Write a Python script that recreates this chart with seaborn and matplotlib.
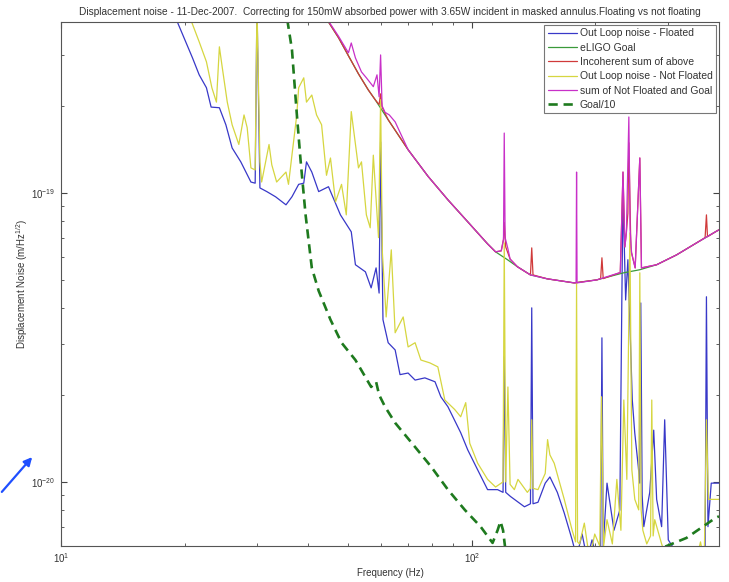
import numpy as np
import pandas as pd
import matplotlib
matplotlib.use("Agg")
import matplotlib.pyplot as plt
import seaborn as sns
from matplotlib.ticker import LogLocator, NullFormatter

# ---------------- data (units of 1e-20 m/Hz^1/2) ----------------
SCALE = 1e-20

floated_f = [18.9, 19.2, 20.9, 21.7, 22.6, 23.2, 24.3, 25.2, 26.1, 27.4, 29.0, 29.7, 30.0, 30.5,
             31.7, 33.3, 35.3, 36.5, 37.9, 39.0, 39.6, 40.8, 42.4, 44.8, 47.9, 50.9, 52.1, 55.1,
             56.9, 58.5, 59.5, 60.0, 60.8, 62.6, 65.1, 66.9, 70.0, 72.8, 76.9, 81.4, 84.1, 87.5,
             94.0, 97.8, 103.4, 109.3, 115.6, 119.2, 120.0, 121.0, 124.3, 134.4, 139.0, 140.0,
             141.0, 145.0, 151.0, 155.0, 161.6, 168.0, 175.6, 180.0, 185.7, 191.0, 196.3, 201.8,
             206.0, 207.5, 209.0, 213.5, 222.0, 229.4, 232.0, 233.5, 237.0, 240.0, 241.3, 246.0,
             249.4, 254.4, 256.5, 258.0, 260.0, 262.4, 271.3, 277.4, 282.0, 290.0, 295.0, 301.0,
             320.0, 350.0, 370.0, 372.8, 376.0, 383.0, 392.0, 400.0]
floated_v = [45, 39, 29.3, 25.6, 23.1, 19.8, 19.7, 17.2, 14.3, 12.8, 10.9, 10.8, 45, 10.4,
             10.1, 9.69, 9.09, 9.69, 10.7, 10.8, 12.8, 11.8, 10.1, 10.5, 8.39, 7.33, 5.64, 5.33,
             4.69, 5.50, 4.5, 15.0, 3.64, 3.03, 2.86, 2.35, 2.38, 2.25, 2.29, 2.22, 1.97, 1.82,
             1.48, 1.29, 1.10, 0.94, 0.94, 0.92, 2.71, 0.92, 0.89, 0.82, 0.84, 4.0,
             0.84, 0.85, 0.99, 1.04, 0.92, 0.78, 0.63, 0.55, 0.66, 0.54, 0.63, 0.54,
             0.60, 3.15, 0.60, 0.99, 0.68, 0.80, 4.26, 10.0, 4.26, 5.87, 4.62, 1.92,
             1.48, 1.13, 0.99, 4.16, 0.90, 0.70, 0.92, 1.51, 0.87, 0.70, 1.64, 0.63,
             0.55, 0.55, 0.58, 4.37, 0.70, 0.99, 0.99, 0.99]

goal_f = [43.6, 44.8, 47.4, 50.1, 53.0, 56.0, 58.2, 62.6, 70.0, 78.3, 87.5, 97.8, 103.4, 109.3,
          114.3, 122.2, 129.2, 139.0, 152.8, 177.6, 201.8, 234.6, 256.6, 282.0, 315.3, 352.6,
          392.0, 400.0]
goal_v = [43.0, 39.0, 34.4, 29.8, 25.8, 22.7, 21.0, 17.9, 14.1, 11.4, 9.46, 7.94, 7.27, 6.66,
          6.25, 5.87, 5.55, 5.20, 5.04, 4.88, 5.00, 5.29, 5.42, 5.64, 6.10, 6.71,
          7.33, 7.45]

incoh_f = [43.6, 44.8, 47.4, 50.1, 53.0, 56.0, 58.2, 59.5, 60.0, 60.5, 62.6, 70.0, 78.3, 87.5,
           97.8, 103.4, 109.3, 114.3, 118.0, 119.5, 120.0, 121.0, 124.0, 129.2, 139.0, 140.0,
           141.0, 152.8, 177.6, 201.8, 206.0, 207.5, 209.0, 230.0, 233.5, 236.0, 238.0, 240.0,
           241.3, 244.0, 245.0, 250.0, 256.6, 259.0, 282.0, 315.3, 352.6, 370.0, 372.8, 375.0,
           392.0, 400.0]
incoh_v = [43.0, 39.0, 34.4, 29.8, 25.8, 22.7, 21.0, 20.2, 22.0, 19.8, 17.9, 14.1, 11.4, 9.46,
           7.94, 7.27, 6.66, 6.25, 6.3, 6.9, 7.9, 6.5, 5.9, 5.55, 5.20, 6.45,
           5.2, 5.04, 4.88, 5.00, 5.05, 5.96, 5.05, 5.3, 11.8, 6.5, 7.3, 8.5,
           14.9, 6.5, 6.2, 5.5, 13.2, 5.5, 5.64, 6.10, 6.71, 7.0, 8.39, 7.05,
           7.33, 7.45]

notfl_f = [20.3, 20.8, 21.7, 22.6, 23.3, 23.9, 24.3, 24.7, 25.4, 26.1, 27.1, 27.9, 28.4, 29.0,
           29.7, 30.0, 30.5, 30.8, 32.1, 32.6, 33.5, 35.3, 35.8, 36.5, 37.5, 37.9, 39.0, 39.6,
           40.8, 41.9, 43.1, 44.3, 45.3, 46.6, 48.2, 49.5, 50.9, 53.0, 53.9, 55.4, 56.6, 57.6,
           59.3, 60.0, 60.6, 61.9, 63.7, 65.1, 68.1, 70.0, 72.8, 75.2, 79.1, 82.7, 86.0, 90.9,
           94.0, 96.7, 98.9, 103.4, 109.3, 114.3, 119.2, 120.0, 121.0, 122.5, 124.0, 127.0,
           129.6, 136.6, 139.0, 140.0, 141.0, 145.0, 151.0, 153.0, 155.0, 158.8, 168.0, 175.6,
           179.0, 180.0, 181.0, 183.0, 188.0, 193.6, 199.3, 205.0, 207.0, 209.5, 213.5, 220.0,
           225.6, 230.8, 234.6, 238.6, 242.7, 245.4, 249.5, 255.0, 256.6, 258.5, 261.0, 266.8,
           272.5, 274.4, 276.5, 279.0, 290.0, 298.4, 352.6, 360.6, 366.0, 368.7, 372.8, 377.0,
           392.0, 400.0]
notfl_v = [45, 39, 33.3, 28.4, 23.1, 20.6, 32.0, 27.1, 20.6, 17.2, 14.7, 18.6, 16.8, 12.2,
           12.0, 45, 12.8, 10.9, 14.7, 12.5, 10.9, 11.8, 10.7, 13.5, 18.6, 23.1, 25.0, 20.6,
           21.8, 18.6, 17.2, 11.5, 13.2, 9.31, 10.7, 8.39, 19.1, 12.2, 12.8, 8.39, 7.57, 13.5,
           7.0, 21.0, 6.2, 3.72, 6.35, 3.28, 3.72, 2.93, 3.03, 2.64, 2.58, 2.50, 1.92, 1.78,
           1.68, 1.88, 1.36, 1.16, 1.02, 0.96, 1.0, 6.71, 1.0, 2.13, 0.98, 0.94,
           1.02, 0.92, 0.95, 1.64, 0.95, 0.94, 1.07, 1.40, 1.24, 1.16, 0.87, 0.68,
           0.62, 4.88, 0.62, 0.61, 0.72, 0.54, 0.66, 0.60, 1.97, 0.60, 0.74, 0.61,
           1.02, 0.68, 1.92, 1.02, 7.27, 1.10, 0.87, 0.80, 5.29, 0.80, 0.68, 0.61,
           0.65, 1.92, 0.65, 0.74, 0.61, 0.54, 0.54, 0.62, 0.55, 0.60, 1.64, 0.87,
           0.87, 0.87]

sumnf_f = [43.6, 44.8, 47.4, 50.1, 50.9, 52.1, 53.9, 55.4, 57.6, 58.8, 59.5, 60.0, 60.5, 61.5,
           63.0, 65.1, 70.0, 78.3, 87.5, 97.8, 103.4, 109.3, 114.3, 118.0, 119.5, 120.0, 120.6,
           122.5, 124.0, 129.2, 139.0, 152.8, 177.6, 179.5, 180.0, 180.5, 201.8, 230.0, 233.5,
           236.0, 238.0, 241.3, 243.0, 245.0, 250.0, 256.6, 259.0, 282.0, 315.3, 352.6, 392.0,
           400.0]
sumnf_v = [43.0, 39.3, 34.8, 30.5, 33.0, 29.3, 26.2, 25.0, 23.3, 25.6, 21.5, 30.0, 20.0, 19.0,
           18.6, 17.6, 14.1, 11.4, 9.46, 7.94, 7.27, 6.66, 6.25, 6.3, 6.9, 16.1, 7.0,
           6.4, 5.9, 5.55, 5.20, 5.04, 4.88, 4.88, 11.8, 4.88, 5.00, 5.3, 11.8,
           6.5, 7.3, 18.3, 7.5, 6.2, 5.5, 13.2, 5.5, 5.64, 6.10, 6.71, 7.33,
           7.45]

goal10_f = [35.1, 36.5, 37.5, 38.3, 39.4, 40.8, 42.4, 45.3, 48.2, 52.1, 56.9, 58.5, 59.5, 61.5,
            65.1, 72.8, 79.6, 87.5, 96.2, 105.1, 112.4, 115.6, 117.5, 119.2, 121.0, 125.6, 140.0,
            177.6, 234.6, 282.0, 298.4, 333.4, 392.0, 400.0]
goal10_v = [44.7, 31.3, 18.8, 13.0, 8.39, 5.50, 4.58, 3.64, 3.03, 2.64, 2.13, 2.22, 2.0, 1.82,
            1.60, 1.32, 1.13, 0.94, 0.80, 0.70, 0.615, 0.68, 0.73, 0.68, 0.57, 0.55, 0.52,
            0.488, 0.53, 0.58, 0.60, 0.64, 0.75, 0.76]

labels = ["Out Loop noise - Floated", "eLIGO Goal", "Incoherent sum of above",
          "Out Loop noise - Not Floated", "sum of Not Floated and Goal", "Goal/10"]
colors = ["#3838c8", "#3a9a3a", "#d03a3a", "#d6d640", "#c830c8", "#1e7a1e"]

x_major = [10, 100]
y_major = [1e-20, 1e-19]

title = ("Displacement noise - 11-Dec-2007.  Correcting for 150mW absorbed power with 3.65W "
         "incident in masked annulus.Floating vs not floating")

# ---------------- plot ----------------
sns.set_style("ticks")
plt.rcParams["font.family"] = ["Liberation Sans", "DejaVu Sans"]
plt.rcParams["mathtext.fontset"] = "custom"
plt.rcParams["mathtext.rm"] = "Liberation Sans"

fig = plt.figure(figsize=(7.29, 5.82), dpi=100)
fig.patch.set_facecolor("white")
ax = fig.add_axes([61 / 729, 36 / 582, 658 / 729, 524 / 582])

series = [(floated_f, floated_v), (goal_f, goal_v), (incoh_f, incoh_v),
          (notfl_f, notfl_v), (sumnf_f, sumnf_v), (goal10_f, goal10_v)]
for i, ((f, v), lab, col) in enumerate(zip(series, labels, colors)):
    df = pd.DataFrame({"f": f, "v": np.array(v) * SCALE})
    kw = dict(lw=0.9)
    if i == 5:
        kw = dict(lw=1.9, linestyle=(0, (3.5, 2.2)))
    sns.lineplot(data=df, x="f", y="v", ax=ax, color=col, label=lab,
                 estimator=None, sort=False, **kw)

ax.set_xscale("log")
ax.set_yscale("log")
ax.set_xticks(x_major)
ax.set_yticks(y_major)
ax.set_xlim(10, 400)
ax.set_ylim(6e-21, 3.9e-19)

for s in ax.spines.values():
    s.set_visible(True)
    s.set_color("#555555")
    s.set_linewidth(0.8)
ax.tick_params(which="both", direction="in", top=True, right=True, colors="#444444",
               labelsize=7, labelcolor="#333333")
ax.tick_params(which="major", length=4)
ax.tick_params(which="minor", length=2.5)
ax.xaxis.set_minor_locator(LogLocator(base=10, subs=np.arange(2, 10)))
ax.yaxis.set_minor_locator(LogLocator(base=10, subs=np.arange(2, 10)))
ax.xaxis.set_minor_formatter(NullFormatter())
ax.yaxis.set_minor_formatter(NullFormatter())
ax.xaxis.set_tick_params(pad=4)
ax.yaxis.set_tick_params(pad=4)

ax.set_xlabel("Frequency (Hz)", fontsize=7, color="#333333", labelpad=2)
ax.set_ylabel("Displacement Noise (m/Hz$^{1/2}$)", fontsize=7, color="#333333")
ax.yaxis.set_label_coords(-0.047, 0.5)
ax.set_title(title, fontsize=7.3, color="#333333", pad=5)
ax.grid(False)

leg = ax.legend(loc="upper right", fontsize=7.5, frameon=True, fancybox=False,
                handlelength=2.8, handletextpad=0.3, borderpad=0.3, labelspacing=0.42,
                borderaxespad=0.3)
leg.get_frame().set_edgecolor("#555555")
leg.get_frame().set_linewidth(0.8)
for t in leg.get_texts():
    t.set_color("#333333")

ax.annotate("", xy=(34 / 729, 127 / 582), xytext=(0, 88 / 582),
            xycoords="figure fraction", textcoords="figure fraction",
            arrowprops=dict(arrowstyle="-|>", color="#1f4fff", lw=1.6, mutation_scale=12))

fig.savefig("out.png", dpi=100, facecolor="white")
